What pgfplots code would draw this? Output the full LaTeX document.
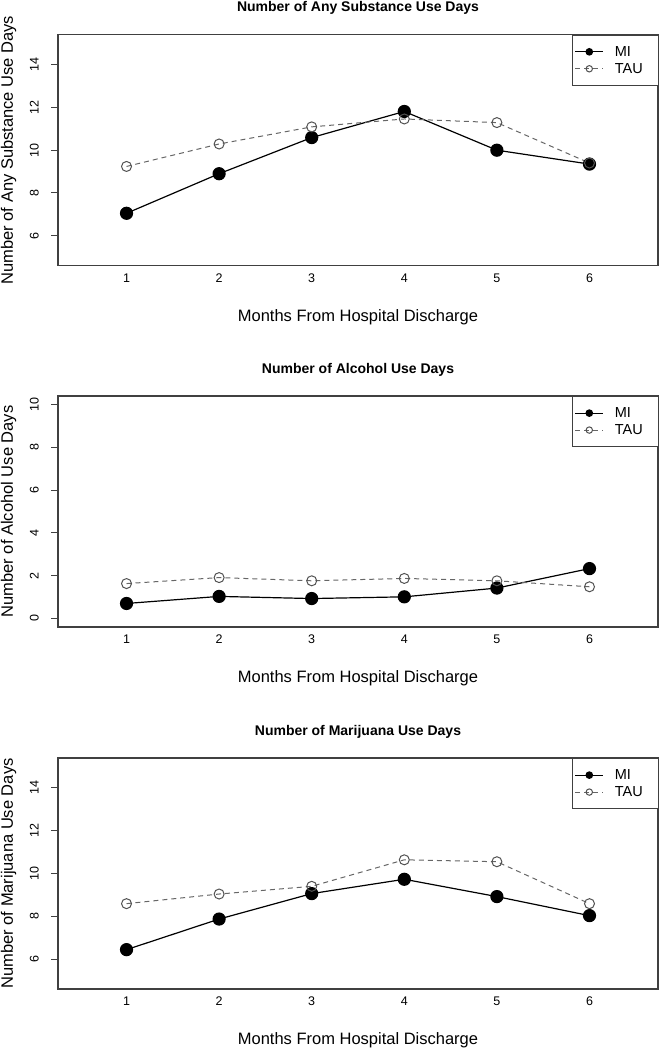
\documentclass[border=0pt]{standalone}
\usepackage{fontspec}
\setmainfont{Liberation Sans}
\usepackage{pgfplots}
\pgfplotsset{compat=1.18}
\definecolor{axgray}{HTML}{404040}
\definecolor{taugray}{HTML}{666666}
\newcommand{\tickfont}{\fontsize{12.5bp}{14bp}\selectfont}
\newcommand{\labfont}{\fontsize{16.5bp}{18bp}\selectfont}
\newcommand{\titfont}{\fontsize{14bp}{16bp}\selectfont\bfseries}
\newcommand{\legfont}{\fontsize{14.5bp}{16bp}\selectfont}
\pgfplotsset{
  panel/.style={
    scale only axis, width=600bp, height=231bp,
    anchor=south west,
    xmin=0.26, xmax=6.74,
    xtick={1,2,3,4,5,6},
    /pgf/number format/assume math mode=true,
    axis line style={axgray, line width=1.2bp},
    tick align=outside, tick pos=left,
    major tick length=7bp,
    ytick style={axgray, line width=1bp},
    xtick style={draw=none},
    xticklabel style={font=\tickfont, inner sep=0pt, anchor=north, yshift=0.5bp},
    typeset ticklabels with strut,
    yticklabel style={font=\tickfont, xshift=-8bp, rotate=90, inner sep=0pt, anchor=south},
    title style={font=\titfont, at={(axis description cs:0.5,1.089)}, anchor=center},
    xlabel style={font=\labfont, at={(axis description cs:0.5,-0.2229)}, anchor=center},
    ylabel style={font=\labfont, at={(axis description cs:-0.0825,0.5)}, anchor=center},
    xlabel={Months From Hospital Discharge},
    legend style={at={(axis description cs:1.002,1)}, anchor=north east,
      draw=axgray, line width=0.8bp, font=\legfont, inner xsep=2bp, inner ysep=9bp,
      row sep=1.5bp, cells={anchor=west},
      /tikz/every odd column/.append style={column sep=9bp}},
    legend image code/.code={\draw[mark repeat=2,mark phase=2,#1] plot coordinates {(0bp,0bp) (14bp,0bp) (28bp,0bp)};},
    legend image post style={mark size=3.2bp},
  },
  mi/.style={black, line width=1.2bp, mark=*, mark size=6bp, mark options={solid, fill=black}},
  tau/.style={taugray, line width=1bp, dash pattern=on 5bp off 4bp, mark=o, mark size=5bp, mark options={solid, draw=taugray!80!black, line width=1bp}},
}
\begin{document}
\begin{tikzpicture}
\path[use as bounding box] (0,0) rectangle (660bp,1048bp);
% Panel 1
\begin{axis}[panel, at={(58bp,782.3bp)}, ymin=4.6, ymax=15.4, ytick={6,8,10,12,14},
  title={Number of Any Substance Use Days}, ylabel={Number of Any Substance Use Days}]
\addplot[mi] coordinates {(1,7.05)(2,8.9)(3,10.59)(4,11.81)(5,10.0)(6,9.35)};
\addlegendentry{MI}
\addplot[tau] coordinates {(1,9.24)(2,10.29)(3,11.09)(4,11.46)(5,11.29)(6,9.4)};
\addlegendentry{TAU\hspace*{12bp}}
\end{axis}
% Panel 2
\begin{axis}[panel, at={(58bp,421bp)}, ymin=-0.4, ymax=10.4, ytick={0,2,4,6,8,10},
  title={Number of Alcohol Use Days}, ylabel={Number of Alcohol Use Days}]
\addplot[mi] coordinates {(1,0.70)(2,1.03)(3,0.93)(4,1.01)(5,1.42)(6,2.33)};
\addlegendentry{MI}
\addplot[tau] coordinates {(1,1.63)(2,1.91)(3,1.76)(4,1.87)(5,1.76)(6,1.48)};
\addlegendentry{TAU\hspace*{12bp}}
\end{axis}
% Panel 3
\begin{axis}[panel, at={(58bp,59bp)}, ymin=4.6, ymax=15.4, ytick={6,8,10,12,14},
  title={Number of Marijuana Use Days}, ylabel={Number of Marijuana Use Days}]
\addplot[mi] coordinates {(1,6.44)(2,7.87)(3,9.06)(4,9.73)(5,8.92)(6,8.03)};
\addlegendentry{MI}
\addplot[tau] coordinates {(1,8.59)(2,9.04)(3,9.40)(4,10.64)(5,10.55)(6,8.59)};
\addlegendentry{TAU\hspace*{12bp}}
\end{axis}
\end{tikzpicture}
\end{document}
